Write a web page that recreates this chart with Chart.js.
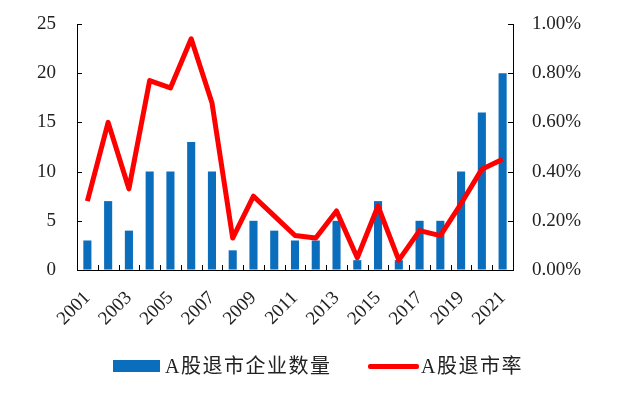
<!DOCTYPE html>
<html>
<head>
<meta charset="utf-8">
<script src="https://cdn.jsdelivr.net/npm/chart.js@4/dist/chart.umd.min.js"></script>
<style>
html, body { margin: 0; padding: 0; background: #fff; }
#wrap { position: relative; width: 640px; height: 393px; }
#legend span { position: absolute; }
.txt { font-family: "Liberation Serif", "Noto Sans CJK SC", serif; font-size: 20px; color: #222; line-height: 24px; letter-spacing: 1.5px; }
</style>
</head>
<body>
<div id="wrap">
	<canvas id="chart" width="640" height="393"></canvas>
	<div id="legend">
		<span style="left:113px;top:360px;width:47px;height:12px;background:#0A6EBD;"></span>
		<span class="txt" id="lab1" style="left:165px;top:354px;"></span>
		<span style="left:368px;top:364px;width:51px;height:5px;background:#FF0000;border-radius:2px;"></span>
		<span class="txt" id="lab2" style="left:421px;top:354px;"></span>
	</div>
</div>
<script>
/*--------------------------------------------------------------------------------------------------------------------*/

const years = ['2001', '2002', '2003', '2004', '2005', '2006', '2007', '2008', '2009', '2010', '2011',
	'2012', '2013', '2014', '2015', '2016', '2017', '2018', '2019', '2020', '2021'];

const delisted = [3, 7, 4, 10, 10, 13, 10, 2, 5, 4, 3, 3, 5, 1, 7, 1, 5, 5, 10, 16, 20];

/* percent */
const delistRate = [0.28, 0.60, 0.33, 0.77, 0.74, 0.94, 0.68, 0.13, 0.30, 0.22, 0.14,
	0.13, 0.24, 0.05, 0.26, 0.04, 0.16, 0.14, 0.27, 0.41, 0.45];

const seriesNames = ['A股退市企业数量', 'A股退市率'];

/*--------------------------------------------------------------------------------------------------------------------*/

document.getElementById('lab1').textContent = seriesNames[0];
document.getElementById('lab2').textContent = seriesNames[1];

const tickFont = { family: '"Liberation Serif", serif', size: 19 };

/* invisible tick marks, used only as a gap between axis and labels */
const hiddenGrid = (len) => ({
	display: true,
	drawOnChartArea: false,
	drawTicks: true,
	tickLength: len,
	tickColor: 'rgba(0,0,0,0)',
});

/* ticks pointing inside the plot */
const innerTicks = {
	id: 'innerTicks',
	afterDraw: function(chart)
	{
		const ctx = chart.ctx;
		const area = chart.chartArea;
		const sy = chart.scales.y;
		const sy1 = chart.scales.y1;
		const sx = chart.scales.x;

		ctx.save();
		ctx.strokeStyle = '#000';
		ctx.lineWidth = 1;
		ctx.beginPath();

		sy.ticks.forEach((t) => {
			const y = Math.round(sy.getPixelForValue(t.value)) + 0.5;
			ctx.moveTo(area.left, y);
			ctx.lineTo(area.left + 5, y);
		});

		sy1.ticks.forEach((t) => {
			const y = Math.round(sy1.getPixelForValue(t.value)) + 0.5;
			ctx.moveTo(area.right, y);
			ctx.lineTo(area.right - 5, y);
		});

		for(let i = 1; i < years.length; i++)
		{
			const x = Math.round((sx.getPixelForValue(i - 1) + sx.getPixelForValue(i)) / 2) + 0.5;
			ctx.moveTo(x, area.bottom);
			ctx.lineTo(x, area.bottom - 5);
		}

		ctx.stroke();
		ctx.restore();
	},
};

/*--------------------------------------------------------------------------------------------------------------------*/

new Chart(document.getElementById('chart').getContext('2d'), {
	type: 'bar',
	data: {
		labels: years,
		datasets: [{
			type: 'line',
			label: seriesNames[1],
			data: delistRate,
			yAxisID: 'y1',
			borderColor: '#FF0000',
			borderWidth: 5,
			borderJoinStyle: 'round',
			pointRadius: 0,
			tension: 0,
			order: 0,
		}, {
			type: 'bar',
			label: seriesNames[0],
			data: delisted,
			yAxisID: 'y',
			backgroundColor: '#0A6EBD',
			categoryPercentage: 1.0,
			barPercentage: 0.39,
			order: 1,
		}],
	},
	options: {
		responsive: false,
		animation: false,
		layout: {
			padding: { top: 24, bottom: 0, left: 0, right: 0 },
		},
		plugins: {
			legend: { display: false },
			tooltip: { enabled: false },
		},
		scales: {
			x: {
				offset: true,
				grid: { display: false, drawTicks: false },
				border: { display: true, color: '#000', width: 1 },
				ticks: {
					autoSkip: false,
					maxRotation: 45,
					minRotation: 45,
					padding: 17,
					color: '#222',
					font: tickFont,
					callback: (v, i) => (i % 2 === 0 ? years[i] : ''),
				},
				afterFit: (s) => { s.height = 123; },
			},
			y: {
				position: 'left',
				min: 0,
				max: 25,
				grid: hiddenGrid(18),
				border: { display: true, color: '#000', width: 1 },
				ticks: {
					stepSize: 5,
					padding: 3,
					color: '#222',
					font: tickFont,
				},
				afterFit: (s) => { s.width = 77; },
			},
			y1: {
				position: 'right',
				min: 0,
				max: 1,
				grid: hiddenGrid(16),
				border: { display: true, color: '#000', width: 1 },
				ticks: {
					stepSize: 0.2,
					padding: 3,
					color: '#222',
					font: tickFont,
					callback: (v) => v.toFixed(2) + '%',
				},
				afterFit: (s) => { s.width = 127; },
			},
		},
	},
	plugins: [innerTicks],
});

/*--------------------------------------------------------------------------------------------------------------------*/
</script>
</body>
</html>
